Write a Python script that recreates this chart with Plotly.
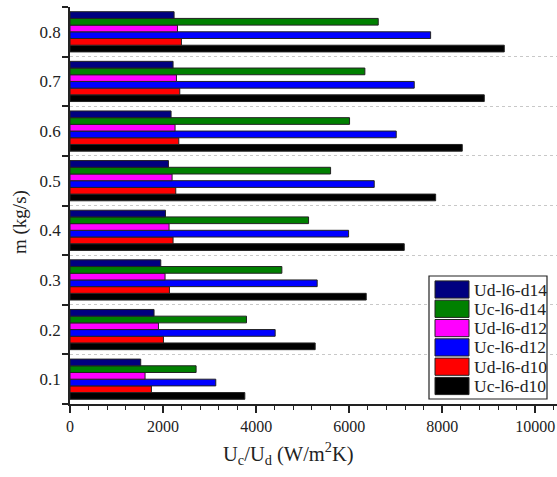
import plotly.graph_objects as go

categories = ["0.1", "0.2", "0.3", "0.4", "0.5", "0.6", "0.7", "0.8"]

ud_l6_d14 = [1520, 1806, 1951, 2052, 2116, 2172, 2215, 2237]
uc_l6_d14 = [2710, 3793, 4553, 5127, 5600, 6008, 6337, 6624]
ud_l6_d12 = [1613, 1901, 2043, 2129, 2194, 2258, 2288, 2310]
uc_l6_d12 = [3133, 4409, 5312, 5987, 6538, 7011, 7398, 7750]
ud_l6_d10 = [1750, 2008, 2137, 2215, 2273, 2338, 2359, 2395]
uc_l6_d10 = [3757, 5269, 6366, 7183, 7858, 8430, 8903, 9333]

# bottom-to-top order inside each group
series = [
    ("Uc-l6-d10", uc_l6_d10, "#000000"),
    ("Ud-l6-d10", ud_l6_d10, "#FF0000"),
    ("Uc-l6-d12", uc_l6_d12, "#0000FF"),
    ("Ud-l6-d12", ud_l6_d12, "#FF00FF"),
    ("Uc-l6-d14", uc_l6_d14, "#008000"),
    ("Ud-l6-d14", ud_l6_d14, "#000080"),
]

font_family = "Liberation Serif"
ink = "#222222"

W, H = 557, 477
L, R, T, B = 70, 0, 7, 73
pw, ph = W - L - R, H - T - B


def px(x):
    return (x - L) / pw


def py(y):
    return (H - B - y) / ph


fig = go.Figure()
for name, vals, color in series:
    fig.add_trace(go.Bar(
        y=categories, x=vals, name=name, orientation="h",
        marker=dict(color=color, line=dict(color=ink, width=1)),
        showlegend=False,
    ))

fig.update_layout(
    width=W, height=H,
    margin=dict(l=L, r=R, t=T, b=B),
    paper_bgcolor="white", plot_bgcolor="white",
    barmode="group", bargap=0.19, bargroupgap=0,
    font=dict(family=font_family, size=15, color=ink),
    showlegend=False,
    xaxis=dict(
        range=[0, 10466], dtick=2000, tick0=0, tickformat="d",
        showline=True, linecolor=ink, linewidth=1.5,
        ticks="outside", ticklen=7, tickwidth=1.5, tickcolor=ink,
        minor=dict(dtick=400, ticks="outside", ticklen=4, tickcolor=ink, tickwidth=1),
        showgrid=False, zeroline=False,
        tickfont=dict(family=font_family, size=16, color=ink),
    ),
    yaxis=dict(
        type="category", categoryorder="array", categoryarray=categories,
        tickson="boundaries",
        showline=True, linecolor=ink, linewidth=1.5,
        ticks="outside", ticklen=6, tickwidth=1.5, tickcolor=ink,
        ticklabelstandoff=4,
        showgrid=True, gridcolor="#c8c8c8", griddash="dot", gridwidth=1,
        tickfont=dict(family=font_family, size=17, color=ink),
    ),
)

# custom legend (top entry first)
fig.add_shape(type="rect", xref="paper", yref="paper",
              x0=px(429), x1=px(547), y0=py(399), y1=py(276),
              line=dict(color=ink, width=1.2), fillcolor="white", layer="above")
for i, (name, vals, color) in enumerate(reversed(series)):
    cy = 289.5 + i * 19.3
    fig.add_shape(type="rect", xref="paper", yref="paper",
                  x0=px(435), x1=px(469), y0=py(cy + 8.6), y1=py(cy - 8.6),
                  line=dict(color=ink, width=1), fillcolor=color, layer="above")
    fig.add_annotation(text=name, xref="paper", yref="paper",
                       x=px(472), y=py(cy), xanchor="left", yanchor="middle",
                       showarrow=False,
                       font=dict(family=font_family, size=17.5, color=ink))

fig.add_annotation(
    text="U<sub>c</sub>/U<sub>d</sub> (W/m<sup>2</sup>K)",
    xref="paper", yref="paper", x=px(288), y=py(453),
    xanchor="center", yanchor="middle", showarrow=False,
    font=dict(family=font_family, size=20.5, color=ink),
)
fig.add_annotation(
    text="m (kg/s)", textangle=-90,
    xref="paper", yref="paper", x=px(20), y=py(222),
    xanchor="center", yanchor="middle", showarrow=False,
    font=dict(family=font_family, size=19, color=ink),
)

fig.write_html("out.html")
